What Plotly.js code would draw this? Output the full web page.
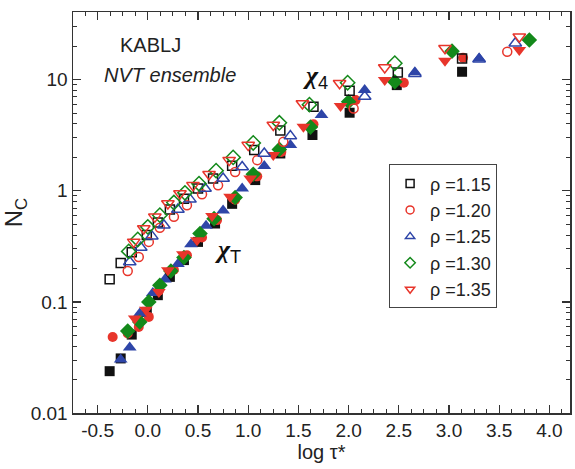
<!DOCTYPE html>
<html><head><meta charset="utf-8">
<script src="https://cdn.plot.ly/plotly-3.0.1.min.js"></script>
<style>body{margin:0;background:#fff}</style>
</head><body><div id="chart" style="width:575px;height:469px"></div>
<script>
const names = ['ρ =1.15', 'ρ =1.20', 'ρ =1.25', 'ρ =1.30', 'ρ =1.35'];

// rho = 1.15 (squares)
const x4_115 = [-0.38, -0.27, -0.16, -0.01, 0.10, 0.22, 0.36, 0.50, 0.65, 0.84, 1.06, 1.32, 1.65, 2.01, 2.49, 3.13];
const n4_115 = [0.16, 0.224, 0.28, 0.40, 0.52, 0.68, 0.85, 1.05, 1.29, 1.68, 2.33, 3.50, 5.71, 7.96, 11.6, 15.5];
const xT_115 = [-0.38, -0.27, -0.16, -0.01, 0.10, 0.22, 0.36, 0.50, 0.67, 0.84, 1.07, 1.32, 1.64, 2.01, 2.48, 3.13];
const nT_115 = [0.0238, 0.031, 0.0508, 0.0813, 0.115, 0.168, 0.238, 0.347, 0.508, 0.764, 1.25, 2.17, 3.18, 5.05, 8.95, 11.8];

// rho = 1.20 (circles)
const x4_120 = [-0.20, -0.09, 0.01, 0.12, 0.26, 0.39, 0.54, 0.70, 0.87, 1.09, 1.35, 2.05, 3.58];
const n4_120 = [0.19, 0.254, 0.347, 0.465, 0.583, 0.743, 0.933, 1.12, 1.48, 1.89, 2.76, 5.52, 17.9];
const xT_120 = [-0.35, -0.20, -0.09, 0.01, 0.11, 0.26, 0.39, 0.54, 0.69, 0.87, 1.09, 1.33, 1.65, 2.07, 2.55, 3.14];
const nT_120 = [0.0484, 0.0519, 0.0596, 0.0733, 0.126, 0.195, 0.263, 0.38, 0.545, 0.83, 1.35, 2.24, 3.98, 6.56, 9.4, 15.8];

// rho = 1.25 (up triangles)
const x4_125 = [-0.18, -0.07, 0.04, 0.16, 0.30, 0.42, 0.57, 0.75, 0.94, 1.16, 1.42, 2.16, 2.66, 3.30, 3.66];
const n4_125 = [0.229, 0.309, 0.391, 0.49, 0.679, 0.838, 1.05, 1.29, 1.64, 2.17, 3.11, 7.08, 11.35, 15.3, 21.3];
const xT_125 = [-0.27, -0.18, -0.08, 0.05, 0.17, 0.30, 0.43, 0.58, 0.75, 0.94, 1.16, 1.42, 1.73, 2.16, 2.66, 3.30];
const nT_125 = [0.0303, 0.0388, 0.0785, 0.12, 0.159, 0.219, 0.331, 0.485, 0.665, 1.05, 1.67, 2.58, 4.81, 8.07, 11.7, 15.5];

// rho = 1.30 (diamonds)
const x4_130 = [-0.19, -0.10, 0.00, 0.12, 0.26, 0.37, 0.51, 0.68, 0.85, 1.05, 1.31, 1.61, 1.99, 2.46];
const n4_130 = [0.285, 0.365, 0.474, 0.604, 0.785, 0.959, 1.16, 1.52, 2.0, 2.7, 4.1, 5.97, 9.4, 14.1];
const xT_130 = [-0.20, -0.08, 0.01, 0.12, 0.23, 0.36, 0.52, 0.66, 0.87, 1.05, 1.31, 1.62, 2.00, 2.46, 3.03, 3.80];
const nT_130 = [0.0548, 0.066, 0.1, 0.141, 0.19, 0.251, 0.413, 0.562, 0.871, 1.41, 2.36, 3.75, 6.34, 9.6, 18.1, 22.8];

// rho = 1.35 (down triangles)
const x4_135 = [-0.14, -0.04, 0.07, 0.20, 0.32, 0.45, 0.61, 0.81, 1.00, 1.25, 1.54, 1.91, 2.36, 2.96, 3.70];
const n4_135 = [0.347, 0.458, 0.583, 0.769, 0.948, 1.12, 1.41, 1.89, 2.58, 3.91, 6.12, 9.29, 12.9, 19.2, 24.4];
const xT_135 = [-0.13, -0.02, 0.11, 0.20, 0.35, 0.49, 0.64, 0.82, 1.02, 1.25, 1.55, 1.92, 2.36, 2.96, 3.70];
const nT_135 = [0.0708, 0.0851, 0.123, 0.193, 0.269, 0.36, 0.593, 0.883, 1.29, 2.1, 3.78, 5.79, 9.93, 14.8, 18.5];

const xTicks = [-0.5, 0.0, 0.5, 1.0, 1.5, 2.0, 2.5, 3.0, 3.5, 4.0];
const yTicks = [0.01, 0.1, 1, 10];
const yTickText = ['0.01', '0.1', '1', '10'];

const colors = ['#111111', '#e8352b', '#2e45a8', '#13891a', '#e8352b'];
const openSym = ['square-open', 'circle-open', 'triangle-up-open', 'diamond-open', 'triangle-down-open'];
const fillSym = ['square', 'circle', 'triangle-up', 'diamond', 'triangle-down'];
const sizes = [10, 10, 12, 12, 12];

const x4 = [x4_115, x4_120, x4_125, x4_130, x4_135];
const n4 = [n4_115, n4_120, n4_125, n4_130, n4_135];
const xT = [xT_115, xT_120, xT_125, xT_130, xT_135];
const nT = [nT_115, nT_120, nT_125, nT_130, nT_135];

const FONT = 'Arial, "Liberation Sans", sans-serif';
const SERIF = '"Liberation Serif", "DejaVu Serif", serif';
const traces = [];
for (let i = 0; i < 5; i++) {
  traces.push({x: xT[i], y: nT[i], mode: 'markers', type: 'scatter', showlegend: false,
    marker: {symbol: fillSym[i], size: sizes[i], color: colors[i], line: {width: 0}}});
}
for (let i = 0; i < 5; i++) {
  traces.push({x: x4[i], y: n4[i], mode: 'markers', type: 'scatter', showlegend: false,
    marker: {symbol: openSym[i], size: sizes[i] - 1, color: colors[i], line: {width: 1.5, color: colors[i]}}});
}
for (let i = 0; i < 5; i++) {
  traces.push({x: [null], y: [null], mode: 'markers', type: 'scatter', name: names[i],
    marker: {symbol: openSym[i], size: 8, color: colors[i], line: {width: 1.5, color: colors[i]}}});
}

const axisCommon = {showline: true, linewidth: 1.5, linecolor: '#333', mirror: 'allticks',
  ticks: 'inside', ticklen: 8, tickwidth: 1.2, tickcolor: '#333', showgrid: false, zeroline: false,
  tickfont: {family: FONT, size: 19, color: '#222'}};

const sub = s => '<sub><span style="font-family:Arial, Liberation Sans, sans-serif">' + s + '</span></sub>';

const layout = {
  width: 575, height: 469,
  margin: {l: 73, r: 5, t: 12, b: 56},
  paper_bgcolor: '#fff', plot_bgcolor: '#fff',
  font: {family: FONT, color: '#222'},
  xaxis: Object.assign({}, axisCommon, {
    range: [-0.745, 4.205], tickvals: xTicks, ticktext: xTicks.map(v => v.toFixed(1)),
    minor: {ticks: 'inside', ticklen: 4, tickwidth: 1, tickcolor: '#333', dtick: 0.125, tick0: 0, showgrid: false},
    title: {text: 'log τ*', font: {family: FONT, size: 20, color: '#222'}, standoff: 4}
  }),
  yaxis: Object.assign({}, axisCommon, {
    type: 'log', range: [-2, 1.61], tickvals: yTicks, ticktext: yTickText,
    minor: {ticks: 'inside', ticklen: 4, tickwidth: 1, tickcolor: '#333', dtick: 'D1', showgrid: false},
    title: {text: 'N<sub>C</sub>', font: {family: FONT, size: 24, color: '#222'}, standoff: 8}
  }),
  legend: {x: 0.636, y: 0.62, xanchor: 'left', yanchor: 'top', bgcolor: '#fff',
    bordercolor: '#444', borderwidth: 1, font: {family: FONT, size: 18, color: '#222'},
    tracegroupgap: 0, itemwidth: 30},
  annotations: [
    {xref: 'paper', yref: 'paper', x: 0.155, y: 0.918, xanchor: 'center', yanchor: 'middle',
      text: 'KABLJ', showarrow: false, font: {family: FONT, size: 20, color: '#222'}},
    {xref: 'paper', yref: 'paper', x: 0.195, y: 0.843, xanchor: 'center', yanchor: 'middle',
      text: '<i>NVT ensemble</i>', showarrow: false, font: {family: FONT, size: 20, color: '#222'}},
    {x: 1.67, y: Math.log10(10.6), xanchor: 'center', yanchor: 'middle', text: '<b><i>χ</i></b>' + sub('4'),
      showarrow: false, font: {family: SERIF, size: 26, color: '#111'}},
    {x: 0.80, y: Math.log10(0.29), xanchor: 'center', yanchor: 'middle', text: '<b><i>χ</i></b>' + sub('T'),
      showarrow: false, font: {family: SERIF, size: 26, color: '#111'}}
  ]
};

Plotly.newPlot('chart', traces, layout, {displayModeBar: false, staticPlot: true});
</script>
</body></html>
